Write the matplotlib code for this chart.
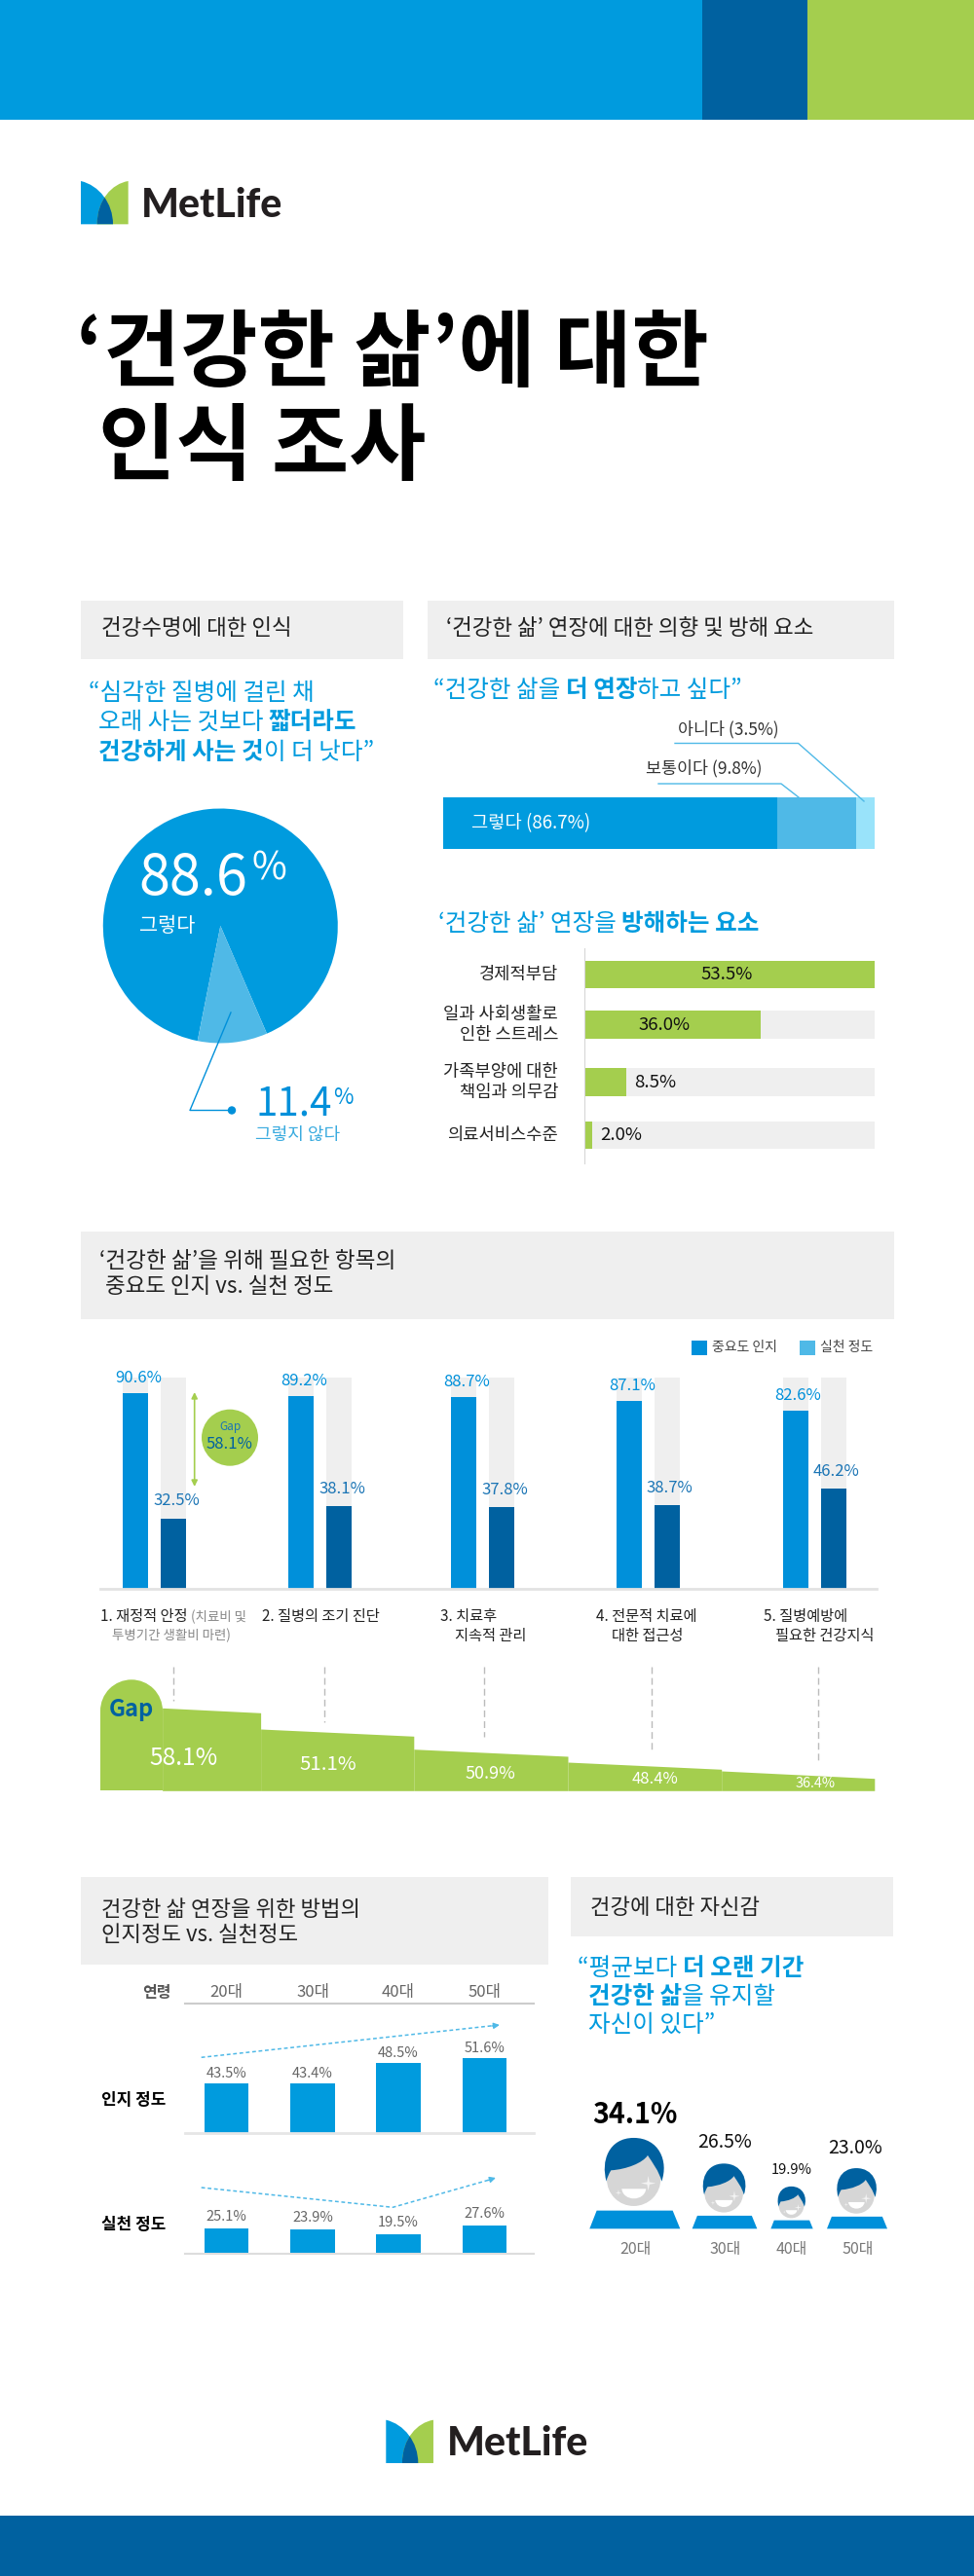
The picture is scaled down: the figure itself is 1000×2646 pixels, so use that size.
import numpy as np
import matplotlib
matplotlib.use("Agg")
import matplotlib.pyplot as plt
from matplotlib.patches import Rectangle, Circle, Polygon, PathPatch, Ellipse
from matplotlib.path import Path

plt.rcParams['font.family'] = ['Noto Sans CJK KR', 'DejaVu Sans']

W, H = 1000, 2646
BLUE = '#009BDE'
MID = '#0090DA'
DARK = '#0061A0'
GREEN = '#A4CE4E'
LIGHT = '#4FB9E7'
PALE = '#99E3FA'
GREY = '#EFEFEF'

# 건강수명 파이 (the slice in the original is not to scale, so drawn shares are kept apart)
pie_values = [88.6, 11.4]
pie_drawn = [90.4, 9.6]

# 연장 의향
stack_labels = ['그렇다', '보통이다', '아니다']
stack_values = [86.7, 9.8, 3.5]
stack_drawn = [77.5, 18.2, 4.3]

# 방해 요소
barrier_labels = ['경제적부담', '일과 사회생활로\n인한 스트레스', '가족부양에 대한\n책임과 의무감', '의료서비스수준']
barrier_values = [53.5, 36.0, 8.5, 2.0]
barrier_drawn = [100, 60.6, 14.4, 2.7]

# 중요도 vs 실천
importance = [90.6, 89.2, 88.7, 87.1, 82.6]
practice = [32.5, 38.1, 37.8, 38.7, 46.2]
gap_values = [58.1, 51.1, 50.9, 48.4, 36.4]
gap_start = [85, 63.3, 42.6, 29.3, 20.3]
gap_end = [80, 56, 35.3, 22, 12.6]

# 연령별
ages = ['20대', '30대', '40대', '50대']
aware_values = [43.5, 43.4, 48.5, 51.6]
aware_drawn = [51, 51, 72, 77]
act_values = [25.1, 23.9, 19.5, 27.6]
confidence = [34.1, 26.5, 19.9, 23.0]
face_widths = [93, 66.7, 43.3, 62]

fig = plt.figure(figsize=(W / 100, H / 100), dpi=100, facecolor='white')
bg = fig.add_axes([0, 0, 1, 1])
top = fig.add_axes([0, 0, 1, 1], zorder=20)
for a in (bg, top):
    a.set_xlim(0, W)
    a.set_ylim(H, 0)
    a.axis('off')
top.patch.set_alpha(0)
renderer = fig.canvas.get_renderer()


def px_axes(x0, y0, x1, y1):
    ax = fig.add_axes([x0 / W, 1 - y1 / H, (x1 - x0) / W, (y1 - y0) / H], zorder=5)
    ax.axis('off')
    ax.patch.set_alpha(0)
    return ax


def label(x, y, s, size, color='#222222', ha='left', bold=False, **kw):
    return top.text(x, y, s, fontsize=size, color=color, ha=ha, va='center',
                    fontweight='bold' if bold else 'normal', **kw)


def text_width(s, size, bold):
    t = label(0, 0, s + '|', size, bold=bold)
    w1 = t.get_window_extent(renderer).width
    t.set_text('|')
    w2 = t.get_window_extent(renderer).width
    t.remove()
    return w1 - w2


def runs(x, y, parts, size, color=BLUE):
    # 굵기가 섞인 한 줄
    for s, bold in parts:
        label(x, y, s, size, color, bold=bold)
        x += text_width(s, size, bold)


def box(x0, y0, x1, y1, color=GREY, z=1):
    bg.add_patch(Rectangle((x0, y0), x1 - x0, y1 - y0, fc=color, ec='none', zorder=z))


def draw_logo(x0, y0, word_x, word_y):
    def pts(coords):
        return [(x0 + (u - 169) / 3, y0 + (v - 137) / 3) for u, v in coords]
    blue_path = Path(pts([(169, 137), (225, 150), (268, 205), (268, 270), (169, 270), (169, 137)]),
                     [Path.MOVETO, Path.CURVE4, Path.CURVE4, Path.CURVE4, Path.LINETO, Path.CLOSEPOLY])
    green_path = Path(pts([(315, 137), (265, 145), (219, 195), (219, 270), (315, 270), (315, 137)]),
                      [Path.MOVETO, Path.CURVE4, Path.CURVE4, Path.CURVE4, Path.LINETO, Path.CLOSEPOLY])
    bg.add_patch(PathPatch(blue_path, fc=BLUE, ec='none', zorder=3))
    green = PathPatch(green_path, fc=GREEN, ec='none', zorder=3)
    bg.add_patch(green)
    over = PathPatch(blue_path, fc=DARK, ec='none', zorder=4)
    bg.add_patch(over)
    over.set_clip_path(green)
    bg.text(word_x, word_y, 'MetLife', fontsize=29.5, fontweight='black', color='#231F20',
            family=['Lato', 'DejaVu Sans'], va='center', ha='left', zorder=4)


def draw_face(cx, bottom, width):
    s = width / 93 / 3

    def pts(coords):
        return [(cx + (u - 245.5) * s, bottom + (v - 1138) * s) for u, v in coords]
    bg.add_patch(Polygon(pts([(106, 1138), (128, 1082), (362, 1082), (385, 1138)]),
                         fc=MID, ec='none', zorder=3))
    bg.add_patch(Circle(pts([(242, 985)])[0], 83 * s, fc='#D6D6D6', ec='none', zorder=3))
    hair = [(158, 992), (140, 930), (165, 858), (242, 858), (320, 858), (350, 930), (328, 992),
            (320, 960), (300, 935), (285, 912), (270, 935), (220, 955), (172, 958),
            (165, 970), (160, 980), (158, 992)]
    bg.add_patch(PathPatch(Path(pts(hair), [Path.MOVETO] + [Path.CURVE4] * 15),
                           fc=DARK, ec='none', zorder=4))
    mouth = [(205, 1015), (210, 1055), (275, 1055), (280, 1015), (205, 1015)]
    bg.add_patch(PathPatch(Path(pts(mouth), [Path.MOVETO, Path.CURVE4, Path.CURVE4, Path.CURVE4, Path.CLOSEPOLY]),
                           fc='white', ec='none', zorder=4))
    for (u, v), r in (((287, 998), 23), ((195, 1027), 10)):
        star = []
        for i in range(8):
            a = i * np.pi / 4
            rr = r if i % 2 == 0 else r * 0.22
            star.append((u + rr * np.cos(a), v + rr * np.sin(a)))
        bg.add_patch(Polygon(pts(star), fc='#F4F4F4', ec='none', zorder=4))


# 상단 띠, 로고, 제목
box(0, 0, 721, 123, BLUE)
box(721, 0, 829, 123, DARK)
box(829, 0, 1000, 123, GREEN)
box(0, 2584, 1000, 2646, DARK)
draw_logo(83, 186, 145, 211)
draw_logo(396.3, 2485.7, 459, 2510)
label(78, 365, '‘건강한 삶’에 대한', 62, '#000000', bold=True)
label(101, 461, '인식 조사', 62, '#000000', bold=True)

# 헤더
box(83, 617, 414, 677)
box(438.5, 617, 917.6, 677)
box(83, 1265, 918, 1355)
box(83, 1928, 562.7, 2018)
box(586, 1928, 917.3, 1989)
label(104, 646, '건강수명에 대한 인식', 16.2)
label(458, 646, '‘건강한 삶’ 연장에 대한 의향 및 방해 요소', 16.2)
label(102, 1296, '‘건강한 삶’을 위해 필요한 항목의', 16.3)
label(108, 1322, '중요도 인지 vs. 실천 정도', 16.2)
label(104, 1962, '건강한 삶 연장을 위한 방법의', 16)
label(104, 1988, '인지정도 vs. 실천정도', 16)
label(605.7, 1959, '건강에 대한 자신감', 16)

# 파이
runs(91, 712, [('“심각한 질병에 걸린 채', False)], 17.7)
runs(101, 742, [('오래 사는 것보다 ', False), ('짧더라도', True)], 17.7)
runs(101, 772.5, [('건강하게 사는 것', True), ('이 더 낫다”', False)], 17.7)
ax = px_axes(105.8, 830.5, 346.8, 1071.5)
ax.pie(pie_drawn, colors=[BLUE, LIGHT], startangle=293.3, radius=1)
ax.set_xlim(-1, 1)
ax.set_ylim(-1, 1)
label(142, 903, f'{pie_values[0]}', 41.5, 'white')
label(258, 893, '%', 28, 'white')
label(143, 951, '그렇다', 15, 'white')
top.plot([237, 195, 238], [1040, 1140.5, 1140.5], color=MID, lw=1)
top.add_patch(Circle((238, 1140.5), 4.2, fc=MID, ec='none'))
label(262, 1134, f'{pie_values[1]}', 29, MID)
label(342, 1127, '%', 16, MID)
label(262, 1166, '그렇지 않다', 13, '#3AABDF')

# 연장 의향 누적 막대
runs(445, 709, [('“건강한 삶을 ', False), ('더 연장', True), ('하고 싶다”', False)], 17.7)
ax = px_axes(455, 819, 898, 872)
left = 0
for share, color in zip(stack_drawn, [BLUE, LIGHT, PALE]):
    ax.barh(0, share, left=left, height=1, color=color)
    left += share
ax.set_xlim(0, 100)
ax.set_ylim(-0.5, 0.5)
label(483.6, 846, f'{stack_labels[0]} ({stack_values[0]}%)', 13.5, 'white')
label(663, 789, f'{stack_labels[1]} ({stack_values[1]}%)', 12.5, '#333333')
label(695.6, 749, f'{stack_labels[2]} ({stack_values[2]}%)', 12.5, '#333333')
top.plot([676, 802, 820], [805, 805, 819], color=LIGHT, lw=1)
top.plot([693, 819.6, 887], [763.5, 763.5, 823], color=LIGHT, lw=1)

# 방해 요소
runs(450, 949, [('‘건강한 삶’ 연장을 ', False), ('방해하는 요소', True)], 17.7)
ax = px_axes(600, 974, 898, 1196)
rows = [1001, 1052.6, 1111.7, 1165.8]
ax.barh(rows, [100] * 4, height=28.5, color=GREY)
ax.barh(rows, barrier_drawn, height=28.5, color=GREEN)
ax.axvline(0, color='#D5D5D5', lw=1.5)
ax.set_xlim(0, 100)
ax.set_ylim(1196, 974)
value_x = [746, 682, 673, 638]
for y, name, v, vx in zip(rows, barrier_labels, barrier_values, value_x):
    label(573, y, name, 12.7, ha='right', multialignment='right', linespacing=1.2)
    label(vx, y, f'{v}%', 13.4, '#111111', ha='center')

# 중요도 vs 실천 막대
for x0, x1, c, s in ((710, 726, MID, '중요도 인지'), (821, 837, LIGHT, '실천 정도')):
    box(x0, 1377, x1, 1392, c)
    label(x1 + 5, 1384, s, 10, '#444444')
ax = px_axes(103, 1415, 900, 1632)
left_x = [125.7, 296, 463, 633, 803.6]
right_x = [165, 335.5, 502, 671.7, 842.8]
ax.bar(left_x + right_x, [97.7] * 10, width=26, align='edge', color=GREY)
ax.bar(left_x, importance, width=26, align='edge', color=MID)
ax.bar(right_x, practice, width=26, align='edge', color=DARK)
ax.axhline(0, color='#E2E2E2', lw=2, clip_on=False)
ax.set_xlim(103, 900)
ax.set_ylim(0, 97.7)
for x, v in zip(left_x, importance):
    ax.annotate(f'{v}%', (x + 13, v), xytext=(3, 15), textcoords='offset pixels', ha='center', va='center',
                fontsize=12, color=MID, annotation_clip=False, zorder=8)
for x, v in zip(right_x, practice):
    ax.annotate(f'{v}%', (x + 13, v), xytext=(3, 18), textcoords='offset pixels', ha='center', va='center',
                fontsize=12, color='#1B75B5', annotation_clip=False, zorder=8)
bg.annotate('', xy=(199.7, 1430), xytext=(199.7, 1527), zorder=6,
            arrowprops=dict(arrowstyle='<|-|>', color=GREEN, lw=1.2, shrinkA=0, shrinkB=0, mutation_scale=9))
bg.add_patch(Circle((236, 1476.7), 29, fc=GREEN, ec='none', zorder=6))
label(236, 1465, 'Gap', 8.5, '#1B75B5', ha='center')
label(236, 1483, f'{gap_values[0]}%', 12, DARK, ha='center')

# 항목 이름
runs(102.6, 1660.7, [('1. 재정적 안정', False)], 11, '#222222')
label(196, 1660.7, '(치료비 및', 9.7, '#888888')
label(115, 1680, '투병기간 생활비 마련)', 9.7, '#888888')
label(269, 1660.7, '2. 질병의 조기 진단', 11)
label(451.7, 1660.7, '3. 치료후', 11)
label(467, 1680, '지속적 관리', 11)
label(612, 1660.7, '4. 전문적 치료에', 11)
label(628, 1680, '대한 접근성', 11)
label(784, 1660.7, '5. 질병예방에', 11)
label(796, 1680, '필요한 건강지식', 11)

# Gap 계단
dash_x = [178.4, 333.3, 496.6, 668.9, 839.5]
dash_end = [1747, 1769, 1784, 1797.7, 1810]
for x, y in zip(dash_x, dash_end):
    bg.plot([x, x], [1711.7, y], color='#BBBBBB', lw=1, ls=(0, (5, 3)), zorder=2)
ax = px_axes(103, 1711, 900, 1839.3)
edges = [166.6, 267.6, 424.8, 583, 740.7, 897.8]
for i in range(5):
    ax.fill_between([edges[i], edges[i + 1]], 0, [gap_start[i], gap_end[i]], color=GREEN, lw=0)
ax.add_patch(Rectangle((103, 0), 64, 82, fc=GREEN, ec='none'))
ax.add_patch(Ellipse((135, 82), 64, 64, fc=GREEN, ec='none'))
ax.set_xlim(103, 900)
ax.set_ylim(0, 128.3)
label(134.6, 1756, 'Gap', 17, DARK, ha='center', bold=True)
gap_x = [188, 336.7, 503, 672.8, 837]
gap_y = [1806, 1812, 1821.7, 1827, 1832]
gap_size = [17.7, 14.7, 13, 12, 10.4]
for x, y, v, s in zip(gap_x, gap_y, gap_values, gap_size):
    label(x, y, f'{v}%', s, 'white', ha='center')

# 연령별 인지 / 실천
label(160.7, 2046.7, '연령', 11.5, '#555555', ha='center', bold=True)
centers = [232.7, 321, 409, 497.3]
for x, a in zip(centers, ages):
    label(x, 2047, a, 12, '#666666', ha='center')
bg.plot([190, 547.7], [2057.7, 2057.7], color='#CCCCCC', lw=1.5, zorder=2)
label(104, 2157, '인지 정도', 12.2, '#000000', bold=True)
label(104, 2285, '실천 정도', 12.2, '#000000', bold=True)

ax = px_axes(190, 2090, 547.7, 2191)
ax.bar(centers, aware_drawn, width=45.5, color=BLUE)
ax.axhline(0, color='#E6E6E6', lw=2, clip_on=False)
ax.set_xlim(190, 547.7)
ax.set_ylim(0, 101)
for x, h, v in zip(centers, aware_drawn, aware_values):
    ax.annotate(f'{v}%', (x, h), xytext=(0, 10), textcoords='offset pixels', ha='center', va='center',
                fontsize=10.5, color='#666666', annotation_clip=False)

ax = px_axes(190, 2230, 547.7, 2315.3)
ax.bar(centers, act_values, width=45.5, color=BLUE)
ax.axhline(0, color='#DDDDDD', lw=1.5, clip_on=False)
ax.set_xlim(190, 547.7)
ax.set_ylim(0, 81.2)
for x, v in zip(centers, act_values):
    ax.annotate(f'{v}%', (x, v), xytext=(0, 12), textcoords='offset pixels', ha='center', va='center',
                fontsize=10.5, color='#666666', annotation_clip=False)

ls = (0, (2.5, 1.8))
top.plot([206.7, 508], [2113.3, 2080.5], color=LIGHT, lw=1.1, ls=ls)
top.plot([206.7, 403.3, 504], [2247, 2267.3, 2238.6], color=LIGHT, lw=1.1, ls=ls)
for tip, tail in (((513, 2080), (505, 2081)), ((509, 2237), (501, 2239.5))):
    top.annotate('', xy=tip, xytext=tail,
                 arrowprops=dict(arrowstyle='-|>', color=LIGHT, lw=1, shrinkA=0, shrinkB=0, mutation_scale=9))

# 자신감
runs(593, 2021.7, [('“평균보다 ', False), ('더 오랜 기간', True)], 17.7)
runs(604, 2050.7, [('건강한 삶', True), ('을 유지할', False)], 17.7)
runs(604, 2080, [('자신이 있다”', False)], 17.7)
face_x = [651.8, 744, 813, 880]
for x, w in zip(face_x, face_widths):
    draw_face(x, 2289.3, w)
conf_x = [651.7, 744.3, 813, 878]
conf_y = [2171.7, 2200.7, 2229, 2206]
conf_size = [20.6, 14, 10.5, 14]
for i, (x, y, v, s) in enumerate(zip(conf_x, conf_y, confidence, conf_size)):
    label(x, y, f'{v}%', s, '#000000' if i == 0 else '#111111', ha='center', bold=(i == 0))
age_x = [652.7, 744.7, 813, 880.7]
for x, a in zip(age_x, ages):
    label(x, 2310, a, 11.5, '#777777', ha='center')

fig.savefig('out.png', dpi=100)
